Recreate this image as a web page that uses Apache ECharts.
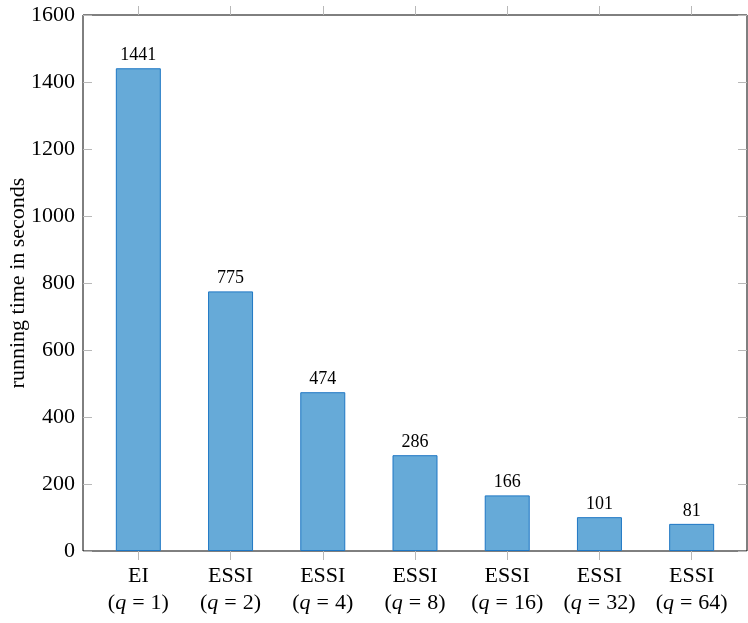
<!DOCTYPE html>
<html>
<head>
<meta charset="utf-8">
<script src="https://cdn.jsdelivr.net/npm/echarts@6/dist/echarts.min.js"></script>
<style>
 html, body { margin: 0; padding: 0; background: #fff; }
 #container { width: 748px; height: 623px; }
</style>
</head>
<body>
<div id="container"></div>
<script>
 // data
 var methods = ['EI', 'ESSI', 'ESSI', 'ESSI', 'ESSI', 'ESSI', 'ESSI'];
 var qValues = [1, 2, 4, 8, 16, 32, 64];
 var runTimes = [1441, 775, 474, 286, 166, 101, 81];
 var yTicks = [0, 200, 400, 600, 800, 1000, 1200, 1400, 1600];
 var yTitle = 'running time in seconds';

 var dom = document.getElementById("container");
 var myChart = echarts.init(dom);

 var positions = methods.map(function (m, i) { return i; });
 var barData = runTimes.map(function (v, i) { return [i, v]; });

 var serif = '"Liberation Serif", "DejaVu Serif", serif';
 var tickColor = '#b8b8b8';
 var hiddenLine = { show: true, onZero: false, lineStyle: { color: 'rgba(0,0,0,0)', width: 1 } };

 var option = {
    backgroundColor: '#fff',
    animation: false,
    grid: {
        left: 83, right: 1, top: 15, bottom: 72,
        show: true, borderColor: '#000', borderWidth: 1, backgroundColor: 'transparent',
        containLabel: false, outerBoundsMode: 'none'
    },
    // y axis title, placed by hand (axis name kept drifting to the edge)
    graphic: [{
        type: 'text',
        x: 18,
        y: 283,
        rotation: Math.PI / 2,
        style: {
            text: yTitle,
            fill: '#000',
            font: '22px "Liberation Serif", "DejaVu Serif", serif',
            align: 'center',
            verticalAlign: 'middle'
        }
    }],
    xAxis: [{
        type: 'value',
        min: -0.6,
        max: 6.6,
        axisLine: hiddenLine,
        axisTick: { show: true, inside: false, length: 9, customValues: positions,
                    lineStyle: { color: tickColor } },
        splitLine: { show: false },
        axisLabel: {
            customValues: positions,
            margin: 12,
            color: '#000',
            fontFamily: serif,
            fontSize: 22,
            lineHeight: 27,
            formatter: function (v) {
                var i = Math.round(v);
                return methods[i] + '\n(' + '{it|q}{eq|=}' + qValues[i] + ')';
            },
            rich: {
                it: { fontStyle: 'italic', fontFamily: serif, fontSize: 22, color: '#000' },
                eq: { fontFamily: serif, fontSize: 22, color: '#000', padding: [0, 6, 0, 6] }
            }
        }
    }, {
        type: 'value',
        position: 'top',
        min: -0.6,
        max: 6.6,
        axisLine: hiddenLine,
        axisTick: { show: true, inside: false, length: 9, customValues: positions,
                    lineStyle: { color: tickColor } },
        axisLabel: { show: false },
        splitLine: { show: false }
    }],
    yAxis: [{
        type: 'value',
        min: 0,
        max: 1600,
        interval: 200,
        axisLine: hiddenLine,
        axisTick: { show: true, inside: true, length: 9, lineStyle: { color: tickColor } },
        splitLine: { show: false },
        axisLabel: {
            color: '#000', fontFamily: serif, fontSize: 22, margin: 8,
            customValues: yTicks,
            formatter: function (v) { return String(v); }
        }
    }, {
        type: 'value',
        position: 'right',
        min: 0,
        max: 1600,
        interval: 200,
        axisLine: hiddenLine,
        axisTick: { show: true, inside: true, length: 9, lineStyle: { color: tickColor } },
        axisLabel: { show: false },
        splitLine: { show: false }
    }],
    series: [{
        type: 'bar',
        data: barData,
        barWidth: 45,
        itemStyle: {
            color: '#66aad8',
            borderColor: '#1f77c4',
            borderWidth: 1
        },
        label: {
            show: true,
            position: 'top',
            distance: 4,
            color: '#000',
            fontFamily: serif,
            fontSize: 18,
            formatter: function (p) { return p.value[1]; }
        }
    }]
 };

 myChart.setOption(option);
</script>
</body>
</html>
